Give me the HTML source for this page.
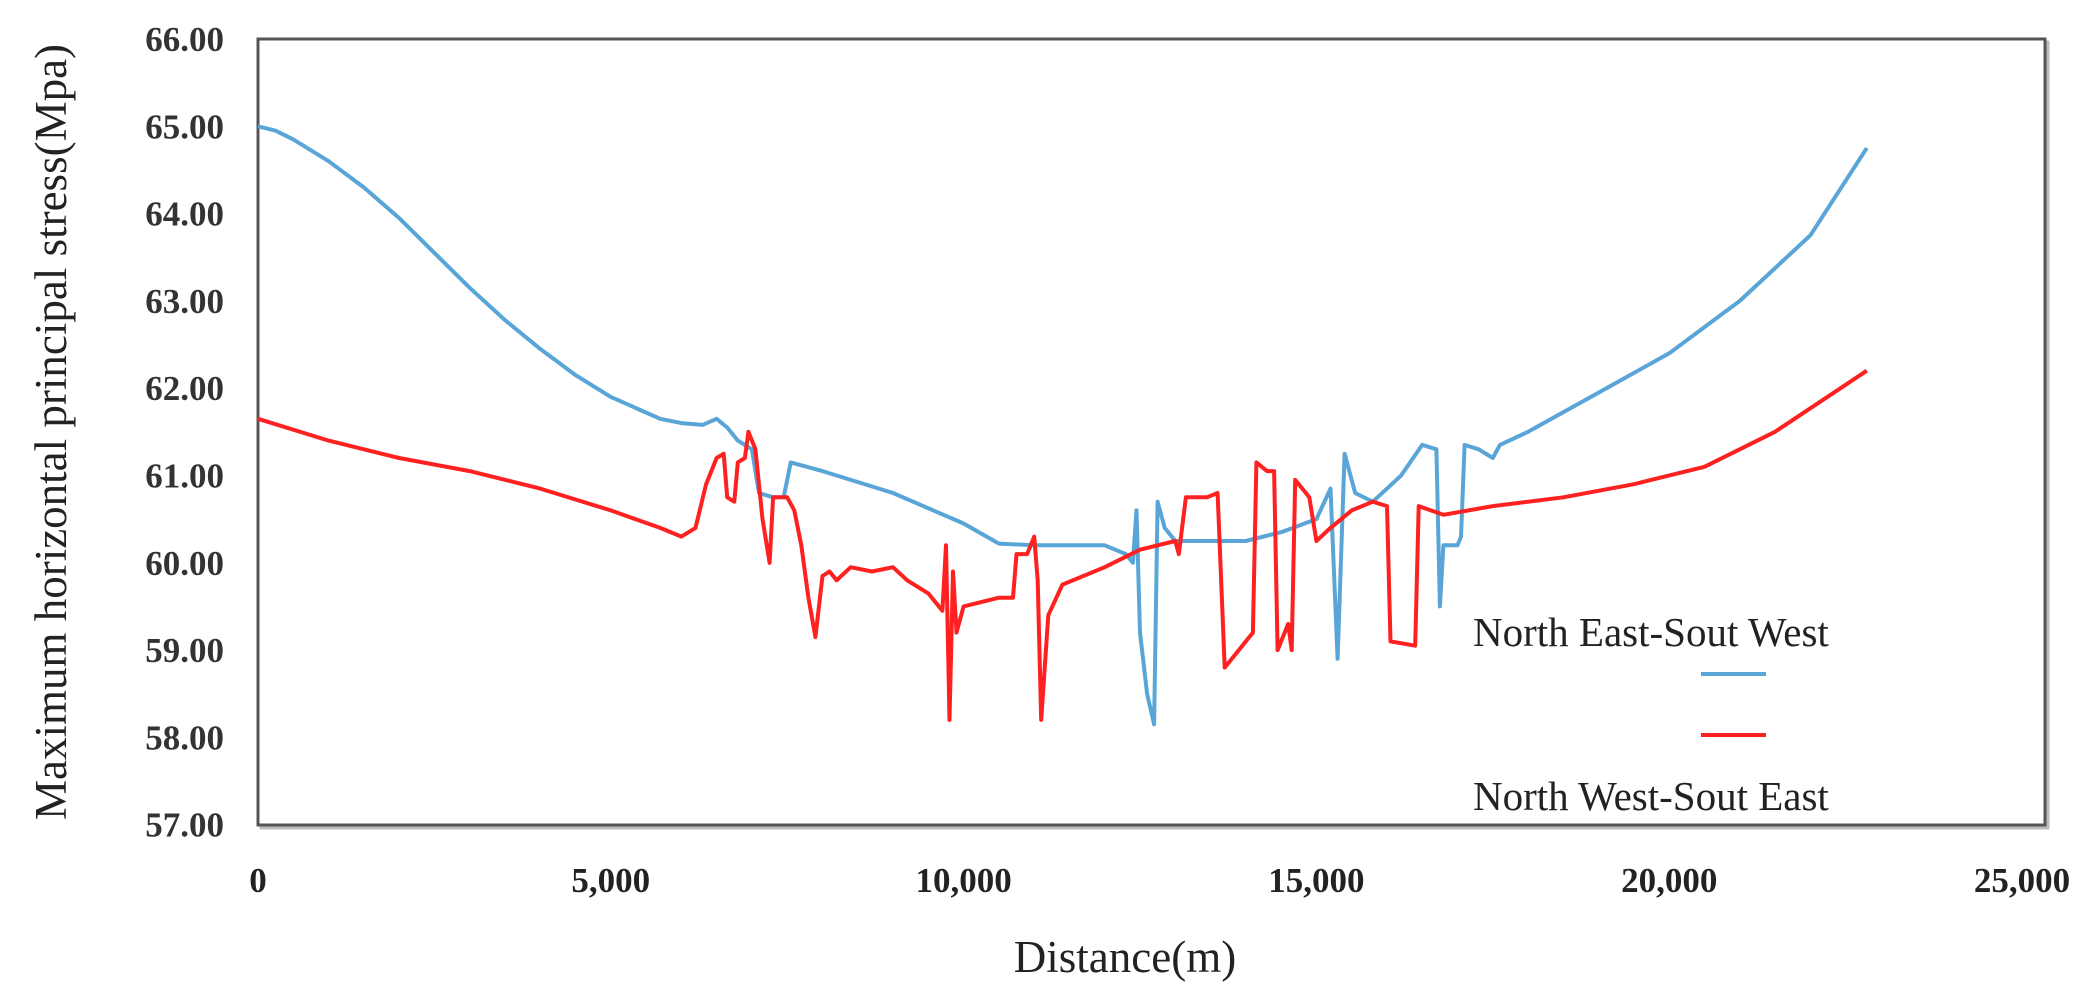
<!DOCTYPE html>
<html><head><meta charset="utf-8"><style>
html,body{margin:0;padding:0;background:#fff;}
svg{display:block;}
text{font-family:"Liberation Serif",serif;}
</style></head><body>
<svg id="chart" width="2099" height="1007" viewBox="0 0 2099 1007" xmlns="http://www.w3.org/2000/svg">
<rect x="261" y="42" width="1787" height="786" fill="none" stroke="#bbb" stroke-width="3"/>
<rect x="258" y="39" width="1787" height="786" fill="#fff" stroke="#555" stroke-width="3"/>
<g id="yticks"></g>
<g id="xticks"></g>
<g id="series"></g>
<text x="0" y="0" transform="translate(66,432) rotate(-90)" text-anchor="middle" font-size="45" fill="#222">Maximum horizontal principal stress(Mpa)</text>
<text x="1125" y="972" text-anchor="middle" font-size="45" fill="#222">Distance(m)</text>
<g>
<text x="1473" y="646" font-size="41" fill="#222">North East-Sout West</text>
<line x1="1701" y1="674" x2="1766" y2="674" stroke="#5aa5d8" stroke-width="4"/>
<line x1="1701" y1="735" x2="1766" y2="735" stroke="#ff2020" stroke-width="4"/>
<text x="1473" y="810" font-size="41" fill="#222">North West-Sout East</text>
</g>
</svg>
<script>
const yTicks = [66,65,64,63,62,61,60,59,58,57];
const xTicks = [0,5000,10000,15000,20000,25000];
const xTickLabels = ["0","5,000","10,000","15,000","20,000","25,000"];
const neX = [0,250,500,1000,1500,2000,2500,3000,3500,4000,4500,5000,5700,6000,6300,6500,6650,6800,7000,7100,7300,7450,7550,8000,9000,10000,10500,11000,12000,12300,12400,12450,12500,12600,12700,12750,12850,13000,14000,14500,15000,15200,15300,15400,15550,15800,16200,16500,16700,16750,16800,17000,17050,17100,17300,17500,17600,18000,19000,20000,21000,22000,22800];
const neY = [65.0,64.95,64.85,64.6,64.3,63.95,63.55,63.15,62.78,62.45,62.15,61.9,61.65,61.6,61.58,61.65,61.55,61.4,61.3,60.8,60.75,60.75,61.15,61.05,60.8,60.45,60.22,60.2,60.2,60.1,60.0,60.6,59.2,58.5,58.15,60.7,60.4,60.25,60.25,60.35,60.5,60.85,58.9,61.25,60.8,60.7,61.0,61.35,61.3,59.5,60.2,60.2,60.3,61.35,61.3,61.2,61.35,61.5,61.95,62.4,63.0,63.75,64.75];
const nwX = [0,1000,2000,3000,4000,5000,5700,6000,6200,6350,6500,6600,6650,6750,6800,6900,6950,7050,7150,7250,7300,7500,7600,7700,7800,7900,8000,8100,8200,8400,8700,9000,9200,9500,9700,9750,9800,9850,9900,10000,10500,10700,10750,10900,11000,11050,11100,11200,11400,12000,12500,13000,13050,13150,13450,13600,13700,14100,14150,14300,14400,14450,14600,14650,14700,14900,15000,15200,15500,15800,16000,16050,16400,16450,16800,17500,18500,19500,20500,21500,22800];
const nwY = [61.65,61.4,61.2,61.05,60.85,60.6,60.4,60.3,60.4,60.9,61.2,61.25,60.75,60.7,61.15,61.2,61.5,61.3,60.5,60.0,60.75,60.75,60.6,60.2,59.6,59.15,59.85,59.9,59.8,59.95,59.9,59.95,59.8,59.65,59.45,60.2,58.2,59.9,59.2,59.5,59.6,59.6,60.1,60.1,60.3,59.8,58.2,59.4,59.75,59.95,60.15,60.25,60.1,60.75,60.75,60.8,58.8,59.2,61.15,61.05,61.05,59.0,59.3,59.0,60.95,60.75,60.25,60.4,60.6,60.7,60.65,59.1,59.05,60.65,60.55,60.65,60.75,60.9,61.1,61.5,62.2];

const NS = "http://www.w3.org/2000/svg";
function xs(v){ return 258 + v/25000*(2022-258); }
function ys(v){ return 39 + (66-v)*87.3; }

const yg = document.getElementById('yticks');
yTicks.forEach(t=>{
  const el = document.createElementNS(NS,'text');
  
  
  el.setAttribute('x', 224);
  el.setAttribute('y', ys(t)+12);
  el.setAttribute('text-anchor','end');
  el.setAttribute('font-size','35');
  el.setAttribute('font-weight','bold');
  el.setAttribute('fill','#333');
  el.textContent = t.toFixed(2);
  yg.appendChild(el);
});
const xg = document.getElementById('xticks');
xTicks.forEach((t,i)=>{
  const el = document.createElementNS(NS,'text');
  
  
  el.setAttribute('x', xs(t));
  el.setAttribute('y', 892);
  el.setAttribute('text-anchor','middle');
  el.setAttribute('font-size','35');
  el.setAttribute('font-weight','bold');
  el.setAttribute('fill','#222');
  el.textContent = xTickLabels[i];
  xg.appendChild(el);
});
const sg = document.getElementById('series');
function drawLine(X,Y,color,name){
  const p = document.createElementNS(NS,'polyline');
  
  
  p.setAttribute('points', X.map((x,i)=>xs(x).toFixed(1)+','+ys(Y[i]).toFixed(1)).join(' '));
  p.setAttribute('fill','none');
  p.setAttribute('stroke',color);
  p.setAttribute('stroke-width','4');
  p.setAttribute('stroke-linejoin','round');
  sg.appendChild(p);
}
drawLine(neX,neY,'#5aa5d8','line-north-east-south-west');
drawLine(nwX,nwY,'#ff2020','line-north-west-south-east');
</script>
</body></html>
